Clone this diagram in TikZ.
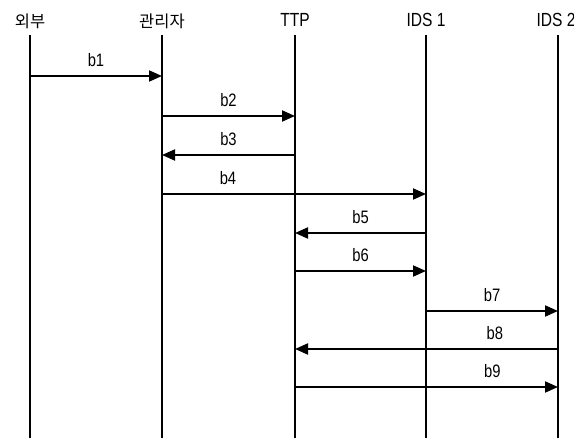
\documentclass[tikz,border=0pt]{standalone}
\usepackage{fontspec}
\setmainfont{Liberation Sans}[FakeStretch=0.82]
\newfontfamily\kofont{Noto Sans CJK KR}
\usetikzlibrary{arrows.meta,positioning}

\begin{document}
\begin{tikzpicture}[x=1pt,y=-1pt,
      font=\fontsize{18}{21}\selectfont,
      head/.style={inner sep=1pt,anchor=center,font=\fontsize{19}{22}\selectfont},
      life/.style={line width=1.2pt},
      msg/.style={-{Triangle[length=13pt,width=11pt]},line width=1.9pt},
      lbl/.style={above=8pt,inner sep=0pt}]
    \useasboundingbox (0,0) rectangle (574,438);
    % participants
    \node[head] (ext) at (30,21) {\kofont\fontsize{16.5}{20}\selectfont 외부};
    \node[head] (mgr) at (162,21) {\kofont\fontsize{16.5}{20}\selectfont 관리자};
    \node[head] (ttp) at (295,20) {TTP};
    \node[head] (ids1) at (426,20) {IDS 1};
    \node[head] (ids2) at (556,20) {IDS 2};
    % lifelines
    \foreach \p in {ext,mgr,ttp,ids1}{
      \coordinate (\p-top) at (\p |- 0,35);
      \coordinate (\p-bot) at (\p |- 0,438);
      \draw[life] (\p-top) -- (\p-bot);
    }
    \coordinate (ids2-top) at (558,35);
    \coordinate (ids2-bot) at (558,438);
    \draw[life] (ids2-top) -- (ids2-bot);
    % messages
    \draw[msg] (ext |- 0,76) -- node[lbl]{b1} (mgr |- 0,76);
    \draw[msg] (mgr |- 0,116) -- node[lbl]{b2} (ttp |- 0,116);
    \draw[msg] (ttp |- 0,155) -- node[lbl]{b3} (mgr |- 0,155);
    \draw[msg] (mgr |- 0,194) -- node[lbl,pos=0.25]{b4} (ids1 |- 0,194);
    \draw[msg] (ids1 |- 0,233) -- node[lbl]{b5} (ttp |- 0,233);
    \draw[msg] (ttp |- 0,271) -- node[lbl]{b6} (ids1 |- 0,271);
    \draw[msg] (ids1 |- 0,311) -- node[lbl]{b7} (ids2-top |- 0,311);
    \draw[msg] (ids2-top |- 0,349) -- node[lbl,pos=0.24]{b8} (ttp |- 0,349);
    \draw[msg] (ttp |- 0,387) -- node[lbl,pos=0.75]{b9} (ids2-top |- 0,387);
  \end{tikzpicture}
\end{document}
